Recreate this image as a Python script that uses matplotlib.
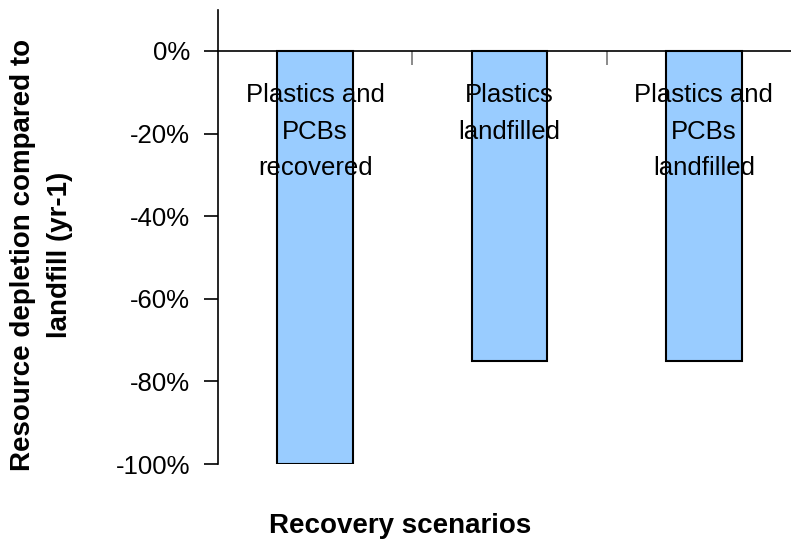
import matplotlib.pyplot as plt
from matplotlib.ticker import FuncFormatter

plt.rcParams['font.family'] = ['Liberation Sans', 'DejaVu Sans']
plt.rcParams['axes.unicode_minus'] = False

scenarios = ['Plastics and\nPCBs\nrecovered', 'Plastics\nlandfilled', 'Plastics and\nPCBs\nlandfilled']
depletion = [-1.00, -0.75, -0.75]
y_ticks = [0, -0.2, -0.4, -0.6, -0.8, -1.0]

fig = plt.figure(figsize=(7.91, 5.42), dpi=100)
ax = fig.add_axes([0.2756, 0.1439, 0.737, 0.8376])

x = list(range(len(scenarios)))
ax.bar(x, depletion, width=0.39, color='#99CCFF', edgecolor='black', linewidth=1.5, zorder=2)

# category names sit inside the plot, near the zero line
for xi, name in zip(x, scenarios):
    ax.text(xi, -0.078, name, ha='center', va='top', fontsize=18.5,
            linespacing=1.66, zorder=3)

ax.set_xlim(-0.5, 2.5)
ax.set_ylim(-1.0, 0.099)

ax.spines['top'].set_visible(False)
ax.spines['right'].set_visible(False)
ax.spines['bottom'].set_position(('data', 0))
ax.spines['left'].set_linewidth(1.2)
ax.spines['bottom'].set_linewidth(1.2)

ax.set_yticks(y_ticks)
ax.yaxis.set_major_formatter(FuncFormatter(lambda v, p: f'{v * 100:.0f}%'))
ax.tick_params(axis='y', direction='out', length=10, width=1.2, pad=10, labelsize=18.5)
ax.set_xticks([0.5, 1.5])
ax.tick_params(axis='x', direction='out', length=10, width=1.2, color='#777777',
               labelbottom=False)

fig.text(0.029, 0.530, 'Resource depletion compared to', rotation=90,
         ha='center', va='center', fontsize=20, fontweight='bold')
fig.text(0.076, 0.530, 'landfill (yr-1)', rotation=90,
         ha='center', va='center', fontsize=20, fontweight='bold')
fig.text(0.506, 0.017, 'Recovery scenarios', ha='center', va='baseline',
         fontsize=20, fontweight='bold')

fig.savefig('out.png', dpi=100)
